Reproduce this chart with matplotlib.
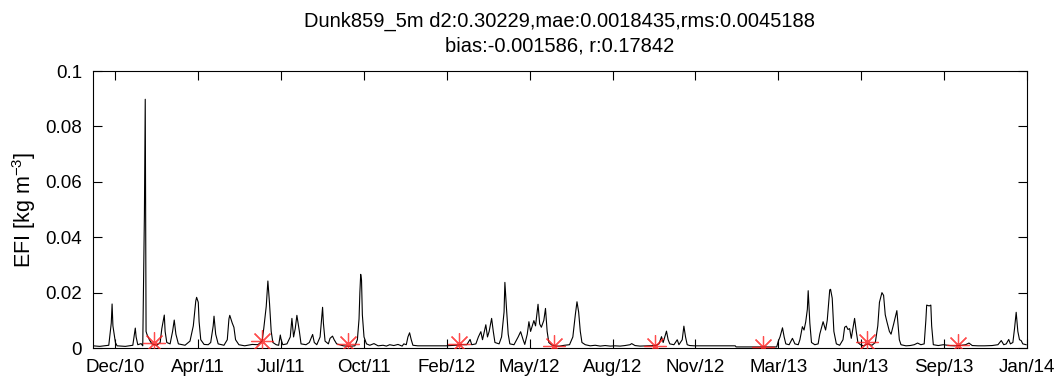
import numpy as np
import matplotlib
matplotlib.use("Agg")
import matplotlib.pyplot as plt

plt.rcParams['font.family'] = ['Liberation Sans', 'DejaVu Sans']
plt.rcParams['mathtext.default'] = 'regular'

# ---- data (days after 2010-12-01, EFI in kg m^-3) ----
start_date = np.datetime64('2010-12-01')

efi_day = [0, 8, 16, 19, 22, 23, 24, 27, 29, 39, 48, 51, 52, 54, 58, 60, 62, 63, 64, 65,
           68, 71, 77, 81, 83, 86, 87, 89, 93, 96, 98, 100, 103, 111, 117, 121, 124, 125, 127, 128,
           130, 134, 139, 142, 145, 146, 148, 151, 158, 162, 164, 165, 168, 170, 172, 176, 183, 192, 199, 204,
           206, 209, 211, 213, 215, 217, 221, 224, 226, 227, 229, 234, 238, 240, 242, 244, 246, 249, 251, 257,
           261, 265, 267, 270, 274, 277, 278, 280, 284, 286, 289, 291, 294, 302, 309, 316, 319, 321, 322, 323,
           324, 325, 327, 330, 334, 339, 344, 350, 354, 358, 363, 368, 373, 375, 378, 380, 382, 384, 386, 392,
           426, 437, 445, 451, 455, 457, 462, 465, 468, 470, 474, 476, 478, 481, 483, 485, 490, 493, 496, 497,
           499, 501, 503, 508, 513, 516, 519, 521, 524, 526, 528, 530, 532, 534, 537, 539, 541, 544, 546, 548,
           550, 554, 559, 563, 569, 575, 579, 582, 584, 586, 588, 590, 594, 600, 606, 612, 618, 624, 630, 636,
           642, 648, 650, 654, 660, 670, 679, 683, 686, 688, 690, 692, 694, 696, 701, 705, 707, 711, 713, 715,
           717, 720, 726, 775, 776, 825, 827, 829, 832, 834, 836, 840, 844, 847, 851, 853, 856, 858, 860, 862,
           863, 865, 867, 871, 875, 877, 881, 884, 886, 889, 890, 892, 894, 897, 901, 905, 907, 909, 911, 913,
           915, 917, 919, 921, 923, 926, 930, 935, 940, 944, 947, 949, 952, 954, 956, 958, 961, 963, 966, 970,
           971, 973, 975, 981, 986, 991, 995, 999, 1003, 1005, 1006, 1009, 1011, 1012, 1014, 1020, 1026, 1034, 1040, 1048,
           1053, 1057, 1061, 1068, 1076, 1085, 1092, 1096, 1099, 1102, 1105, 1107, 1110, 1112, 1114, 1116, 1118, 1120, 1122, 1126]

efi_value = [0.0008, 0.0006, 0.0009, 0.001, 0.009, 0.0159, 0.008, 0.002, 0.0008, 0.0006, 0.001, 0.0072, 0.004, 0.0012, 0.0016, 0.0008, 0.0484, 0.0898, 0.006, 0.005,
             0.003, 0.0015, 0.001, 0.002, 0.007, 0.0119, 0.006, 0.002, 0.0015, 0.006, 0.0101, 0.005, 0.0015, 0.001, 0.0025, 0.008, 0.017, 0.0183, 0.0165, 0.0095,
             0.003, 0.0013, 0.0012, 0.002, 0.008, 0.0115, 0.005, 0.0015, 0.001, 0.003, 0.0105, 0.0118, 0.009, 0.0075, 0.003, 0.0012, 0.0008, 0.0013, 0.0012, 0.0025,
             0.007, 0.015, 0.0242, 0.016, 0.006, 0.002, 0.0012, 0.001, 0.0047, 0.003, 0.0012, 0.0015, 0.004, 0.0107, 0.004, 0.007, 0.0118, 0.006, 0.0015, 0.0012,
             0.002, 0.0049, 0.002, 0.0012, 0.004, 0.0147, 0.009, 0.0025, 0.0015, 0.0035, 0.0043, 0.003, 0.0015, 0.0008, 0.0006, 0.0008, 0.003, 0.0105, 0.02, 0.0266,
             0.0245, 0.012, 0.004, 0.0015, 0.001, 0.0016, 0.0008, 0.001, 0.0007, 0.0012, 0.0009, 0.0013, 0.0007, 0.0015, 0.0012, 0.004, 0.0055, 0.003, 0.001, 0.0008,
             0.0008, 0.001, 0.0012, 0.0012, 0.0031, 0.0012, 0.0015, 0.004, 0.0059, 0.003, 0.0084, 0.004, 0.006, 0.0107, 0.006, 0.002, 0.0015, 0.004, 0.013, 0.0237,
             0.014, 0.005, 0.0015, 0.0012, 0.004, 0.0059, 0.003, 0.0013, 0.005, 0.0095, 0.006, 0.008, 0.0099, 0.008, 0.0158, 0.0087, 0.0075, 0.01, 0.0143, 0.006,
             0.002, 0.001, 0.0007, 0.0007, 0.001, 0.0012, 0.004, 0.012, 0.0167, 0.013, 0.006, 0.002, 0.0012, 0.0008, 0.001, 0.0007, 0.0009, 0.0007, 0.0008, 0.0007,
             0.0009, 0.0012, 0.0016, 0.0009, 0.0007, 0.0008, 0.0009, 0.0015, 0.0041, 0.002, 0.004, 0.0061, 0.003, 0.0015, 0.0012, 0.003, 0.0012, 0.003, 0.0079, 0.004,
             0.0012, 0.0009, 0.0008, 0.0008, 0.0004, 0.0004, 0.0025, 0.004, 0.0073, 0.004, 0.0015, 0.0012, 0.0035, 0.0015, 0.0012, 0.003, 0.0077, 0.0065, 0.0094, 0.014,
             0.0207, 0.009, 0.002, 0.0012, 0.0015, 0.005, 0.0095, 0.0065, 0.01, 0.021, 0.0212, 0.018, 0.006, 0.0015, 0.001, 0.003, 0.0075, 0.0079, 0.0067, 0.007,
             0.0035, 0.007, 0.0107, 0.006, 0.002, 0.0012, 0.0008, 0.0015, 0.001, 0.002, 0.008, 0.0165, 0.02, 0.019, 0.012, 0.0095, 0.006, 0.005, 0.0085, 0.0135,
             0.01, 0.003, 0.0012, 0.0008, 0.0009, 0.0012, 0.0018, 0.0012, 0.0015, 0.01, 0.0155, 0.0152, 0.0155, 0.008, 0.0012, 0.0009, 0.0012, 0.0009, 0.0008, 0.001,
             0.0012, 0.0018, 0.0009, 0.0008, 0.0008, 0.0009, 0.0012, 0.0027, 0.0012, 0.0015, 0.0031, 0.0015, 0.002, 0.007, 0.0129, 0.006, 0.003, 0.0027, 0.0015, 0.0012]

obs_day = [73, 204, 308, 442, 556, 678, 809, 934, 1044]
obs_value = [0.0017, 0.0025, 0.0013, 0.0016, 0.0007, 0.0008, 0.0004, 0.002, 0.0011]

tick_dates = ['2010-12-28', '2011-04-07', '2011-07-16', '2011-10-24', '2012-02-01', '2012-05-11',
              '2012-08-19', '2012-11-27', '2013-03-07', '2013-06-15', '2013-09-23', '2014-01-01']
tick_labels = ['Dec/10', 'Apr/11', 'Jul/11', 'Oct/11', 'Feb/12', 'May/12',
               'Aug/12', 'Nov/12', 'Mar/13', 'Jun/13', 'Sep/13', 'Jan/14']
y_ticks = [0, 0.02, 0.04, 0.06, 0.08, 0.1]
y_tick_labels = ['0', '0.02', '0.04', '0.06', '0.08', '0.1']

title_text = 'Dunk859_5m d2:0.30229,mae:0.0018435,rms:0.0045188\nbias:-0.001586, r:0.17842'

# ---- plot ----
efi_dates = start_date + np.array(efi_day, dtype='timedelta64[D]')
obs_dates = start_date + np.array(obs_day, dtype='timedelta64[D]')

fig = plt.figure(figsize=(10.62, 3.88), dpi=100)
ax = fig.add_axes([0.0876, 0.103, 0.8794, 0.714])

ax.plot(efi_dates, efi_value, color='black', lw=0.8, zorder=2)
ax.plot(obs_dates, obs_value, linestyle='none', marker=(8, 2, 0), markersize=16,
        markeredgecolor='#ff2020', markeredgewidth=0.9, alpha=0.8, zorder=3)

ax.set_xlim(np.datetime64('2010-12-01'), np.datetime64('2014-01-01'))
ax.set_ylim(0, 0.1)
ax.set_xticks([np.datetime64(d) for d in tick_dates])
ax.set_xticklabels(tick_labels)
ax.set_yticks(y_ticks)
ax.set_yticklabels(y_tick_labels)

ax.tick_params(direction='in', length=6.5, width=0.8, top=True, right=True,
               labelsize=13.5, pad=8, colors='black')
for s in ax.spines.values():
    s.set_linewidth(0.8)
    s.set_color('black')

ax.set_ylabel('EFI [kg m$^{-3}$]', fontsize=15.5, labelpad=5)
ax.set_title(title_text, fontsize=14.5, linespacing=1.35, pad=14)

fig.savefig('out.png', dpi=100)
